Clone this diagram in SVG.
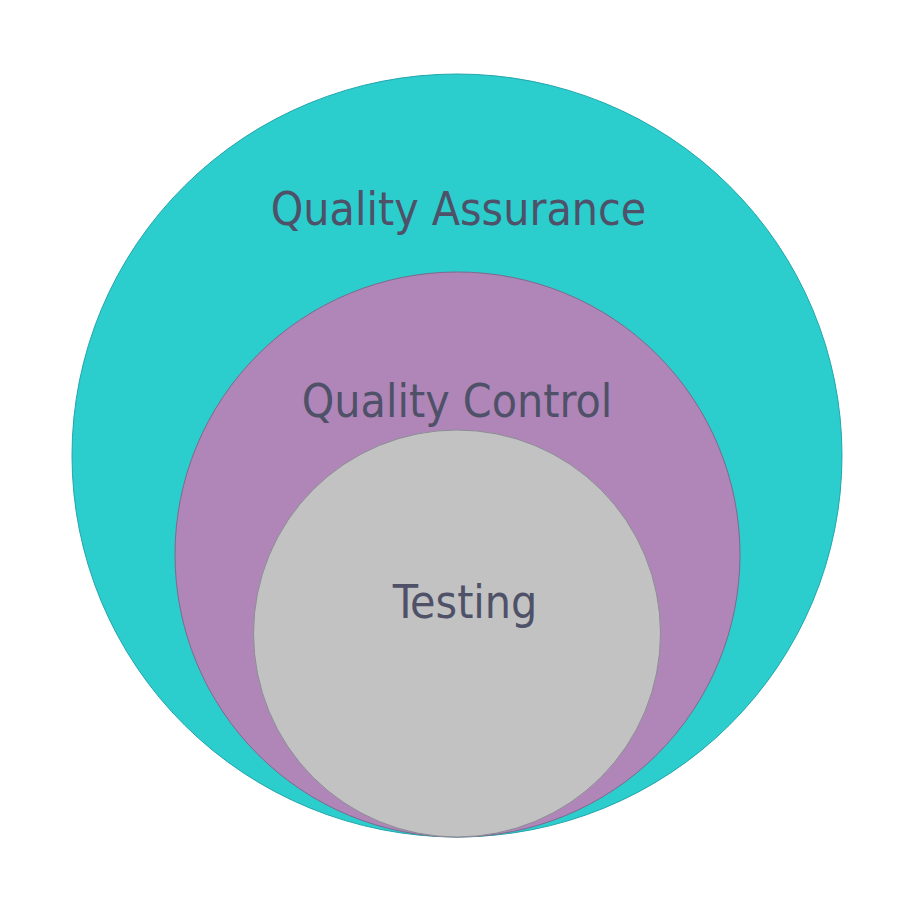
<svg xmlns="http://www.w3.org/2000/svg" width="916" height="916" viewBox="0 0 916 916">
  <style>
    .lbl { font-family: "DejaVu Sans Condensed", "DejaVu Sans", sans-serif; font-stretch: condensed; font-size: 46px; fill: #4e5168; text-anchor: middle; }
    .ring { stroke-width: 1; }
  </style>
  <rect x="0" y="0" width="916" height="916" fill="#ffffff"/>
  <g id="quality-assurance">
    <ellipse class="ring" cx="457" cy="455.5" rx="385" ry="381.5" fill="#2bcdcd" stroke="#23a6ad"/>
    <text class="lbl" x="458.5" y="225">Quality Assurance</text>
  </g>
  <g id="quality-control">
    <circle class="ring" cx="457.5" cy="554.5" r="282.5" fill="#b086b8" stroke="#7d6a8c"/>
    <text class="lbl" x="457" y="417">Quality Control</text>
  </g>
  <g id="testing">
    <circle class="ring" cx="457" cy="633.5" r="203.5" fill="#c2c2c2" stroke="#8c8c96"/>
    <text class="lbl" x="465" y="618">Testing</text>
  </g>
  <g id="connectors"/>
</svg>
